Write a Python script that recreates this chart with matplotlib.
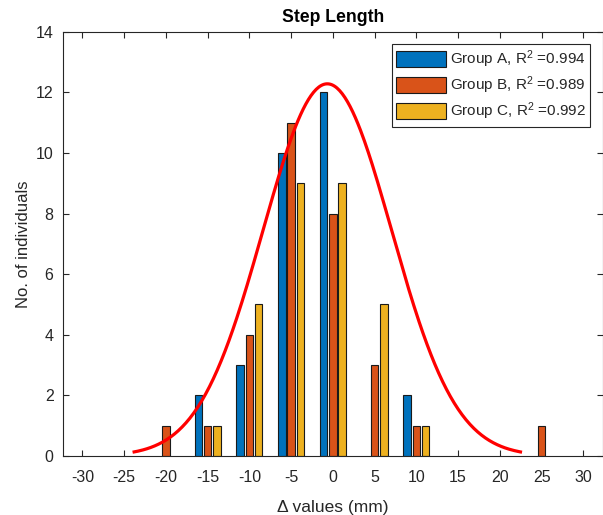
import numpy as np
import matplotlib
matplotlib.use('Agg')
import matplotlib.pyplot as plt

plt.rcParams['font.family'] = ['Liberation Sans', 'DejaVu Sans']
plt.rcParams['mathtext.default'] = 'regular'
plt.rcParams['axes.unicode_minus'] = False

# bin centres (mm) and counts per group
centros = [-20, -15, -10, -5, 0, 5, 10, 15, 20, 25]
grupo_a = [0, 2, 3, 10, 12, 0, 2, 0, 0, 0]
grupo_b = [1, 1, 4, 11, 8, 3, 1, 0, 0, 1]
grupo_c = [0, 1, 5, 9, 9, 5, 1, 0, 0, 0]
etiquetas = ['Group A, R$^2$ =0.994', 'Group B, R$^2$ =0.989', 'Group C, R$^2$ =0.992']
colores = ['#0072BD', '#D95319', '#EDB120']

# gaussian fit shown in red
amp_fit, mu_fit, sigma_fit = 12.28, -0.67, 7.7
x_fit_ini, x_fit_fin = -24.0, 22.66

xticks = list(range(-30, 31, 5))
yticks = list(range(0, 15, 2))
gris = '#262626'

fig = plt.figure(figsize=(6.03, 5.15), dpi=100)
ax = fig.add_axes([63.3 / 603, 59 / 515, 539.2 / 603, 424.3 / 515])

paso = 5.0
ancho_grupo = min(0.8, 3 / 4.5) * paso
sep = ancho_grupo / 3
ancho_barra = 0.8 * sep

for i, (vals, lab, col) in enumerate(zip([grupo_a, grupo_b, grupo_c], etiquetas, colores)):
    xs = np.array(centros) + (i - 1) * sep
    vals = np.array(vals)
    m = vals > 0
    ax.bar(xs[m], vals[m], width=ancho_barra, color=col, edgecolor='#1a1a1a',
           linewidth=0.8, label=lab, zorder=2)

xf = np.linspace(x_fit_ini, x_fit_fin, 300)
yf = amp_fit * np.exp(-(xf - mu_fit) ** 2 / (2 * sigma_fit ** 2))
ax.plot(xf, yf, color='red', linewidth=2.3, zorder=3, solid_capstyle='butt')

ax.set_xlim(-32.3, 32.3)
ax.set_ylim(0, 14)
ax.set_xticks(xticks)
ax.set_yticks(yticks)
ax.tick_params(direction='in', top=True, right=True, length=4, width=0.8,
               color=gris, labelcolor=gris, labelsize=11.5, zorder=4)
ax.tick_params(axis='x', pad=10)
ax.tick_params(axis='y', pad=7)
for sp in ax.spines.values():
    sp.set_color(gris)
    sp.set_linewidth(0.8)
    sp.set_zorder(4)

ax.set_title('Step Length', fontsize=12.7, fontweight='bold', color='black', pad=7)
ax.set_xlabel('Δ values (mm)', fontsize=12.5, color=gris, labelpad=11)
ax.set_ylabel('No. of individuals', fontsize=12, color=gris, labelpad=3.7)

leg = ax.legend(loc='upper right', fontsize=11, fancybox=False, framealpha=1,
                edgecolor=gris, borderaxespad=0.8, borderpad=0.3,
                handlelength=3.27, handleheight=1.23, handletextpad=0.22,
                labelspacing=0.29)
leg.get_frame().set_linewidth(0.8)
for t in leg.get_texts():
    t.set_color(gris)

fig.savefig('out.png', dpi=100)
